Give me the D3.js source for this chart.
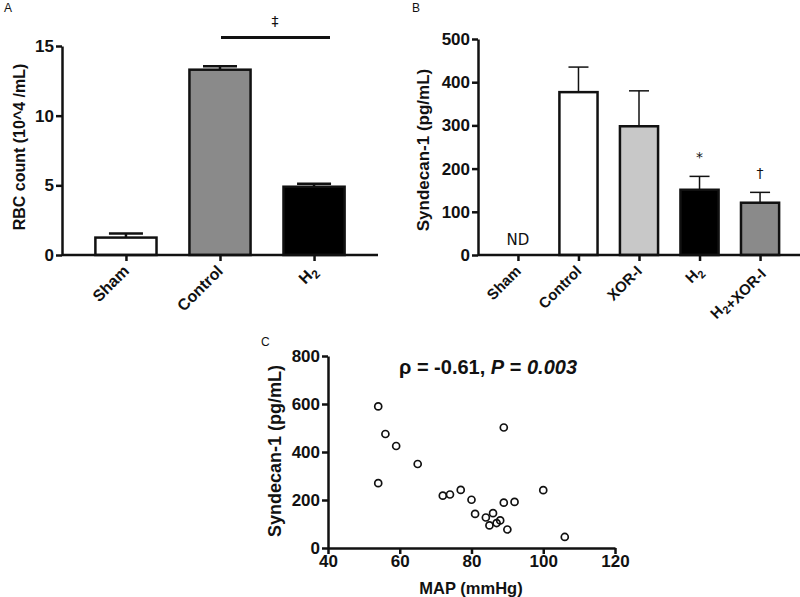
<!DOCTYPE html>
<html>
<head>
<meta charset="utf-8">
<script src="https://cdn.jsdelivr.net/npm/d3@7"></script>
<style>
  body { margin: 0; background: #fff; }
  svg { font-family: "Liberation Sans", Arial, sans-serif; }
  text { fill: #111; }
</style>
</head>
<body>
<svg id="chart" width="800" height="597"></svg>
<script>
'use strict';

// Panel A: RBC count
var rbcGroups = ['Sham', 'Control', 'H2'];
var rbcMeans = [1.25, 13.3, 4.9];
var rbcErrors = [0.3, 0.25, 0.22];
var rbcFills = ['#ffffff', '#8a8a8a', '#000000'];
var rbcTicks = [0, 5, 10, 15];

// Panel B: Syndecan-1
var sdcGroups = ['Sham', 'Control', 'XOR-I', 'H2', 'H2+XOR-I'];
var sdcMeans = [null, 377, 298, 151, 121];
var sdcErrors = [null, 58, 82, 31, 24];
var sdcFills = ['#ffffff', '#ffffff', '#c8c8c8', '#000000', '#8a8a8a'];
var sdcMarks = ['ND', '', '', '*', '†'];
var sdcTicks = [0, 100, 200, 300, 400, 500];

// Panel C: MAP vs Syndecan-1
var mapValues = [54, 56, 59, 65, 54, 89, 72, 74, 77, 80, 81, 84, 86, 85, 87, 88, 90, 89, 92, 100, 106];
var sdcValues = [590, 475, 425, 350, 270, 502, 218, 223, 242, 201, 142, 127, 145, 94, 104, 115, 77, 189, 192, 241, 46];
var mapTicks = [40, 60, 80, 100, 120];
var sdcScatterTicks = [0, 200, 400, 600, 800];

var svg = d3.select('#chart');

function styleAxis(g, size) {
  g.select('.domain').attr('stroke', '#111').attr('stroke-width', 2.5);
  g.selectAll('.tick line').attr('stroke', '#111').attr('stroke-width', 2.5);
  g.selectAll('.tick text')
    .attr('fill', '#111')
    .style('font-size', size + 'px')
    .style('font-weight', 'bold')
    .style('font-family', '"Liberation Sans", Arial, sans-serif');
}

// group labels with subscript 2
function groupLabel(t, d, size) {
  var parts = d.split('2');
  parts.forEach(function(p, i) {
    if (p) t.append('tspan').text(p);
    if (i < parts.length - 1) {
      t.append('tspan').attr('dy', 4).style('font-size', (size - 4) + 'px').text('2');
      if (parts[i + 1]) t.append('tspan').attr('dy', -4).text('');
    }
  });
}

function barPanel(opts) {
  var g = svg.append('g');

  var x = d3.scalePoint().domain(opts.groups).range(opts.xRange).padding(opts.pad);
  var y = d3.scaleLinear().domain(opts.yDomain).range(opts.yRange);
  var bw = x.step() * opts.barFrac;

  var data = opts.groups.map(function(k, i) {
    return { key: k, mean: opts.means[i], err: opts.errors[i], fill: opts.fills[i], mark: opts.marks ? opts.marks[i] : '' };
  });
  var withBars = data.filter(function(d) { return d.mean !== null; });

  // error bars (upper only)
  g.selectAll('line.err').data(withBars).enter().append('line')
    .attr('x1', function(d) { return x(d.key); })
    .attr('x2', function(d) { return x(d.key); })
    .attr('y1', function(d) { return y(d.mean); })
    .attr('y2', function(d) { return y(d.mean + d.err); })
    .attr('stroke', '#111').attr('stroke-width', opts.errWidth);
  g.selectAll('line.cap').data(withBars).enter().append('line')
    .attr('x1', function(d) { return x(d.key) - opts.cap; })
    .attr('x2', function(d) { return x(d.key) + opts.cap; })
    .attr('y1', function(d) { return y(d.mean + d.err); })
    .attr('y2', function(d) { return y(d.mean + d.err); })
    .attr('stroke', '#111').attr('stroke-width', opts.errWidth);

  g.selectAll('rect').data(withBars).enter().append('rect')
    .attr('x', function(d) { return x(d.key) - bw / 2; })
    .attr('width', bw)
    .attr('y', function(d) { return y(d.mean); })
    .attr('height', function(d) { return y(0) - y(d.mean); })
    .attr('fill', function(d) { return d.fill; })
    .attr('stroke', '#111').attr('stroke-width', 2.5);

  // marks above bars
  g.selectAll('text.mark').data(data.filter(function(d) { return d.mark; })).enter().append('text')
    .attr('x', function(d) { return x(d.key); })
    .attr('y', function(d) { return d.mean === null ? y(0) - 10 : y(d.mean + d.err) - 14; })
    .attr('text-anchor', 'middle')
    .style('font-family', '"DejaVu Sans", sans-serif')
    .style('font-size', function(d) { return d.mark === 'ND' ? '15px' : '14px'; })
    .style('fill', '#111')
    .text(function(d) { return d.mark; });

  var yAxis = g.append('g').attr('transform', 'translate(' + opts.xRange[0] + ',0)')
    .call(d3.axisLeft(y).tickValues(opts.yTicks).tickSize(6).tickPadding(2).tickSizeOuter(0));
  styleAxis(yAxis, 17);

  var xAxis = g.append('g').attr('transform', 'translate(0,' + opts.yRange[0] + ')')
    .call(d3.axisBottom(x).tickSize(6).tickSizeOuter(0).tickFormat(''));
  styleAxis(xAxis, opts.xFont);
  xAxis.select('.domain').attr('d', 'M' + opts.xRange[0] + ',0H' + opts.xRange[1]);

  // rotated category labels
  g.selectAll('g.xlab').data(opts.groups).enter().append('g')
    .attr('class', 'xlab')
    .attr('transform', function(d) { return 'translate(' + (x(d) + 4) + ',' + (opts.yRange[0] + 17) + ') rotate(-45)'; })
    .append('text')
    .attr('text-anchor', 'end')
    .style('font-size', opts.xFont + 'px')
    .style('font-weight', 'bold')
    .each(function(d) { groupLabel(d3.select(this), d, opts.xFont); });

  g.append('text')
    .attr('transform', 'translate(' + opts.yLabelX + ',' + opts.yLabelY + ') rotate(-90)')
    .attr('text-anchor', 'middle')
    .attr('dy', '0.35em')
    .style('font-size', opts.yLabelSize + 'px').style('font-weight', 'bold')
    .text(opts.yLabel);

  return { g: g, x: x, y: y };
}

var panelA = barPanel({
  groups: rbcGroups, means: rbcMeans, errors: rbcErrors, fills: rbcFills,
  xRange: [62, 378], pad: 0.68, barFrac: 0.65,
  yDomain: [0, 15], yRange: [255, 46], yTicks: rbcTicks,
  errWidth: 2.5, cap: 17, xFont: 16,
  yLabel: 'RBC count (10^4 /mL)', yLabelX: 19, yLabelY: 147, yLabelSize: 16
});

// significance bar Control vs H2
panelA.g.append('line')
  .attr('x1', 221).attr('x2', 330)
  .attr('y1', 37.5).attr('y2', 37.5)
  .attr('stroke', '#111').attr('stroke-width', 3);
panelA.g.append('text')
  .attr('x', 275).attr('y', 26)
  .attr('text-anchor', 'middle')
  .style('font-family', '"DejaVu Sans", sans-serif')
  .style('font-size', '14px')
  .text('‡');

barPanel({
  groups: sdcGroups, means: sdcMeans, errors: sdcErrors, fills: sdcFills, marks: sdcMarks,
  xRange: [478, 800], pad: 0.66, barFrac: 0.63,
  yDomain: [0, 500], yRange: [255, 39], yTicks: sdcTicks,
  errWidth: 1.5, cap: 10, xFont: 15,
  yLabel: 'Syndecan-1 (pg/mL)', yLabelX: 423, yLabelY: 150, yLabelSize: 17
});

// Panel C scatter
var gc = svg.append('g');
var xc = d3.scaleLinear().domain([40, 120]).range([328, 615]);
var yc = d3.scaleLinear().domain([0, 800]).range([548, 356]);

var yAxisC = gc.append('g').attr('transform', 'translate(328,0)')
  .call(d3.axisLeft(yc).tickValues(sdcScatterTicks).tickSize(6).tickPadding(2).tickSizeOuter(0));
styleAxis(yAxisC, 17);
var xAxisC = gc.append('g').attr('transform', 'translate(0,548)')
  .call(d3.axisBottom(xc).tickValues(mapTicks).tickSize(6).tickPadding(1).tickSizeOuter(0));
styleAxis(xAxisC, 17);

gc.selectAll('circle').data(mapValues).enter().append('circle')
  .attr('cx', function(d) { return xc(d); })
  .attr('cy', function(d, i) { return yc(sdcValues[i]); })
  .attr('r', 3.5)
  .attr('fill', 'none')
  .attr('stroke', '#111').attr('stroke-width', 1.7);

gc.append('text')
  .attr('x', 471).attr('y', 594)
  .attr('text-anchor', 'middle')
  .style('font-size', '16.5px').style('font-weight', 'bold')
  .text('MAP (mmHg)');

gc.append('text')
  .attr('transform', 'translate(275,451) rotate(-90)')
  .attr('text-anchor', 'middle')
  .attr('dy', '0.35em')
  .style('font-size', '18px').style('font-weight', 'bold')
  .text('Syndecan-1 (pg/mL)');

var title = gc.append('text')
  .attr('x', 488).attr('y', 374)
  .attr('text-anchor', 'middle')
  .style('font-size', '20px').style('font-weight', 'bold');
title.append('tspan').text('ρ = -0.61, ');
title.append('tspan').style('font-style', 'italic').text('P');
title.append('tspan').text(' = ');
title.append('tspan').style('font-style', 'italic').text('0.003');

// panel letters
svg.append('text').attr('x', 4).attr('y', 12).style('font-size', '12px').text('A');
svg.append('text').attr('x', 412).attr('y', 12).style('font-size', '12px').text('B');
svg.append('text').attr('x', 261).attr('y', 346).style('font-size', '12px').text('C');
</script>
</body>
</html>
